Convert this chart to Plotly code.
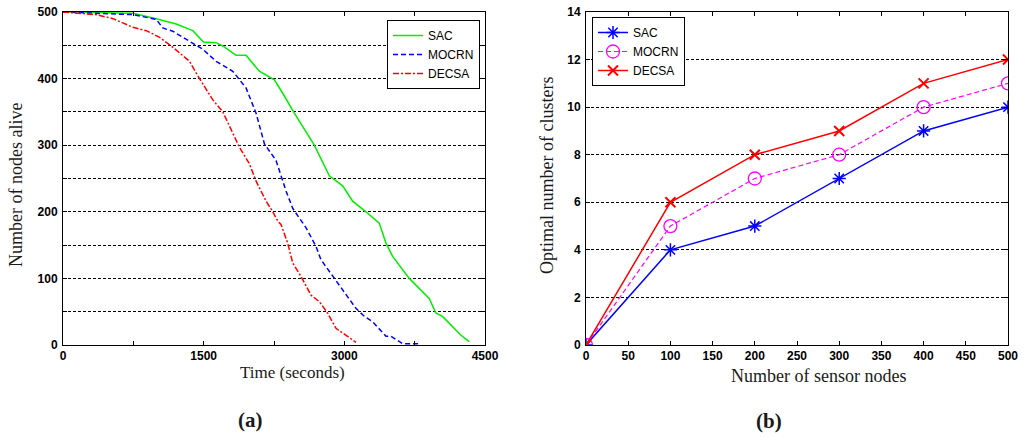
import plotly.graph_objects as go

# (a) nodes alive over time
sac_t = [0, 746, 994, 1207, 1384, 1498, 1633, 1704, 1846, 1952, 2094, 2254, 2343, 2467, 2680,
         2840, 2982, 3089, 3231, 3372, 3444, 3515, 3692, 3905, 3976, 4047, 4242, 4331]
sac_n = [500, 498, 490, 482, 472, 455, 454, 449, 435, 435, 411, 398, 378, 348, 300,
         254, 239, 216, 200, 183, 153, 133, 100, 70, 48, 43, 15, 5]

mocrn_t = [0, 746, 994, 1065, 1172, 1313, 1491, 1633, 1810, 1952, 2059, 2148, 2272, 2379, 2450,
           2592, 2698, 2751, 2876, 2982, 3124, 3213, 3302, 3444, 3498, 3621, 3799]
mocrn_n = [500, 496, 489, 476, 471, 459, 444, 426, 411, 386, 348, 302, 277, 231, 205,
           176, 148, 128, 103, 83, 55, 43, 35, 13, 13, 2, 2]

decsa_t = [0, 355, 533, 746, 888, 1030, 1172, 1349, 1438, 1598, 1704, 1793, 1881, 1988, 2059,
           2165, 2237, 2290, 2325, 2396, 2450, 2538, 2644, 2734, 2822, 2911, 2982, 3124]
decsa_n = [500, 496, 490, 477, 472, 462, 447, 426, 404, 368, 350, 322, 297, 272, 246,
           216, 200, 186, 181, 153, 123, 103, 75, 65, 48, 25, 18, 4]

# (b) optimal clusters vs sensor nodes
nodes = [0, 100, 200, 300, 400, 500]
sac_k = [0, 4, 5, 7, 9, 10]
mocrn_k = [0, 5, 7, 8, 10, 11]
decsa_k = [0, 6, 8, 9, 11, 12]

time_ticks = [0, 750, 1500, 2250, 3000, 3750, 4500]
time_labels = ["0", "", "1500", "", "3000", "", "4500"]
alive_ticks = list(range(0, 501, 50))
node_ticks = list(range(0, 501, 50))
cluster_ticks = list(range(0, 15, 2))

W, H = 1024, 437
serif = "Liberation Serif"
sans = "Liberation Sans"


def dx(px):
    return px / W


def dy(py):
    return 1 - py / H


def bold(labels):
    return ["<b>%s</b>" % s if s != "" else "" for s in labels]


def label(text, x, y, size=18, angle=0, weight=False):
    return dict(text="<b>%s</b>" % text if weight else text,
                x=dx(x), y=dy(y), xref="paper", yref="paper",
                xanchor="center", yanchor="middle", textangle=angle, showarrow=False,
                font=dict(family=serif, size=size, color="#1a1a1a"))


fig = go.Figure()

fig.add_trace(go.Scatter(x=sac_t, y=sac_n, name="SAC", mode="lines",
                         line=dict(color="#00ee00", width=1.5), xaxis="x", yaxis="y", legend="legend"))
fig.add_trace(go.Scatter(x=mocrn_t, y=mocrn_n, name="MOCRN", mode="lines",
                         line=dict(color="#0000ff", width=1.5, dash="5px,3px"),
                         xaxis="x", yaxis="y", legend="legend"))
fig.add_trace(go.Scatter(x=decsa_t, y=decsa_n, name="DECSA", mode="lines",
                         line=dict(color="#ff0000", width=1.5, dash="6px,2px,2px,2px"),
                         xaxis="x", yaxis="y", legend="legend"))

fig.add_trace(go.Scatter(x=nodes, y=sac_k, name="SAC", mode="lines+markers",
                         line=dict(color="#0000ff", width=1.5),
                         marker=dict(symbol="asterisk-open", size=11, color="#0000ff",
                                     line=dict(color="#0000ff", width=1.5)),
                         xaxis="x2", yaxis="y2", legend="legend2"))
fig.add_trace(go.Scatter(x=nodes, y=mocrn_k, name="MOCRN", mode="lines+markers",
                         line=dict(color="#ff00ff", width=1.2, dash="5px,3px"),
                         marker=dict(symbol="circle-open", size=13, color="#ff00ff",
                                     line=dict(color="#ff00ff", width=1.3)),
                         xaxis="x2", yaxis="y2", legend="legend2"))
fig.add_trace(go.Scatter(x=nodes, y=decsa_k, name="DECSA", mode="lines+markers",
                         line=dict(color="#ff0000", width=1.5),
                         marker=dict(symbol="x-thin-open", size=10, color="#ff0000",
                                     line=dict(color="#ff0000", width=2)),
                         xaxis="x2", yaxis="y2", legend="legend2"))

axis_common = dict(showline=True, linecolor="black", linewidth=1, mirror="ticks",
                   ticks="inside", ticklen=4, tickcolor="black", zeroline=False,
                   automargin=False, ticklabeloverflow="allow",
                   tickfont=dict(family=sans, size=12, color="black", weight="bold"))
grid = dict(showgrid=True, gridcolor="black", griddash="3px,2px", gridwidth=0.8)

ydom = [dy(345), dy(12)]

fig.update_layout(
    width=W, height=H,
    margin=dict(l=0, r=0, t=0, b=0),
    paper_bgcolor="white", plot_bgcolor="white",
    xaxis=dict(domain=[dx(63), dx(485)], range=[0, 4500], anchor="y",
               tickvals=time_ticks, ticktext=bold(time_labels),
               showgrid=False, ticklabelstandoff=0, **axis_common),
    yaxis=dict(domain=ydom, range=[0, 500], anchor="x",
               tickvals=alive_ticks,
               ticktext=bold([str(v) if v % 100 == 0 else "" for v in alive_ticks]),
               ticklabelstandoff=2, **grid, **axis_common),
    xaxis2=dict(domain=[dx(586), dx(1008)], range=[0, 500], anchor="y2",
                tickvals=node_ticks, ticktext=bold([str(v) for v in node_ticks]),
                showgrid=False, ticklabelstandoff=0, **axis_common),
    yaxis2=dict(domain=ydom, range=[0, 14], anchor="x2",
                tickvals=cluster_ticks, ticktext=bold([str(v) for v in cluster_ticks]),
                ticklabelstandoff=2, **grid, **axis_common),
    legend=dict(x=dx(480), y=dy(20), xanchor="right", yanchor="top",
                bgcolor="white", bordercolor="black", borderwidth=1,
                font=dict(family=sans, size=12, color="black"), tracegroupgap=0,
                itemwidth=30),
    legend2=dict(x=dx(592), y=dy(17), xanchor="left", yanchor="top",
                 bgcolor="white", bordercolor="black", borderwidth=1,
                 font=dict(family=sans, size=12, color="black"), tracegroupgap=0,
                 itemwidth=30),
    annotations=[
        label("Time (seconds)", 292, 372, size=17),
        label("Number of nodes alive", 16, 185, angle=-90),
        label("Number of sensor nodes", 818, 376),
        label("Optimal number of clusters", 547, 176, angle=-90),
        label("(a)", 250, 420, size=21, weight=True),
        label("(b)", 769, 421, size=21, weight=True),
    ],
)

# drop the default page margin so the figure fills the window exactly
fig.write_html("out.html", config={"displayModeBar": False},
               post_script="document.body.style.margin = '0';")
